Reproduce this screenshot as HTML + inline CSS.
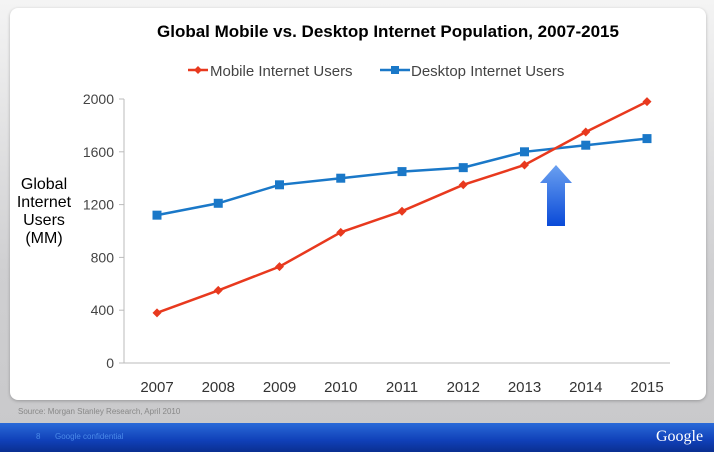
<!DOCTYPE html>
<html><head><meta charset="utf-8"><style>
body{margin:0;width:714px;height:452px;overflow:hidden;font-family:"Liberation Sans",sans-serif;background:linear-gradient(#f4f4f4,#cfcfd1 60%,#c8c8ca);position:relative}
#panel{position:absolute;left:10px;top:8px;width:696px;height:392px;background:#fff;border-radius:8px;box-shadow:0 1px 3px rgba(0,0,0,.25)}
#footer{position:absolute;left:0;top:423px;width:714px;height:29px;background:linear-gradient(#2a6ad8,#1040b8 60%,#0a2f90)}
</style></head><body>
<div id="panel"></div>
<div style="position:absolute;left:18px;top:407px;font-size:8px;color:#888">Source: Morgan Stanley Research, April 2010</div>
<div id="footer">
<span style="position:absolute;left:36px;top:9px;font-size:8px;color:#4a8ae8">8</span>
<span style="position:absolute;left:55px;top:9px;font-size:8px;color:#4a8ae8">Google confidential</span>
<span style="position:absolute;left:656px;top:5px;font-size:16px;color:#fff;font-family:'Liberation Serif',serif">Google</span>
</div>
<svg id="c" width="714" height="452" style="position:absolute;left:0;top:0"></svg>
<script>
const years=["2007","2008","2009","2010","2011","2012","2013","2014","2015"];
const mobile=[380,550,730,990,1150,1350,1500,1750,1980];
const desktop=[1120,1210,1350,1400,1450,1480,1600,1650,1700];
const yTicks=[0,400,800,1200,1600,2000];
const NS="http://www.w3.org/2000/svg";
const svg=document.getElementById('c');
const x=i=>157+i*61.25;
const y=v=>363-v*(264/2000);
function el(t,a,p){const e=document.createElementNS(NS,t);for(const k in a)e.setAttribute(k,a[k]);(p||svg).appendChild(e);return e;}
let t=el('text',{x:388,y:37,'text-anchor':'middle','font-size':17,'font-weight':'bold',fill:'#000'});t.textContent="Global Mobile vs. Desktop Internet Population, 2007-2015";

// legend
let g=el('g',{});
el('line',{x1:188,y1:70,x2:208,y2:70,stroke:'#e8391e','stroke-width':2.5},g);
el('path',{d:'M198 66 L202 70 L198 74 L194 70Z',fill:'#e8391e'},g);
t=el('text',{x:210,y:76,'font-size':15,fill:'#444'},g);t.textContent="Mobile Internet Users";
g=el('g',{});
el('line',{x1:380,y1:70,x2:410,y2:70,stroke:'#1a78c8','stroke-width':2.5},g);
el('rect',{x:391,y:66,width:8,height:8,fill:'#1a78c8'},g);
t=el('text',{x:411,y:76,'font-size':15,fill:'#444'},g);t.textContent="Desktop Internet Users";
// axes
let a=el('line',{x1:124,y1:99,x2:124,y2:363,stroke:'#bbb'});
a=el('line',{x1:124,y1:363,x2:670,y2:363,stroke:'#bbb'});
yTicks.forEach(v=>{el('line',{x1:119,y1:y(v),x2:124,y2:y(v),stroke:'#bbb'});
 const tt=el('text',{x:114,y:y(v)+5,'text-anchor':'end','font-size':14,fill:'#444'});tt.textContent=v;
 });
years.forEach((yr,i)=>{const tt=el('text',{x:x(i),y:392,'text-anchor':'middle','font-size':15,fill:'#333'});tt.textContent=yr;
 });
["Global","Internet","Users","(MM)"].forEach((s,i)=>{const tt=el('text',{x:44,y:189+i*18,'text-anchor':'middle','font-size':16,fill:'#000'});tt.textContent=s;
 });
// series
const dp=desktop.map((v,i)=>x(i)+','+y(v)).join(' ');
let l=el('polyline',{points:dp,fill:'none',stroke:'#1a78c8','stroke-width':2.5});
desktop.forEach((v,i)=>{const m=el('rect',{x:x(i)-4.5,y:y(v)-4.5,width:9,height:9,fill:'#1a78c8'});});
const mp=mobile.map((v,i)=>x(i)+','+y(v)).join(' ');
l=el('polyline',{points:mp,fill:'none',stroke:'#e8391e','stroke-width':2.5});
mobile.forEach((v,i)=>{const cx=x(i),cy=y(v);const m=el('path',{d:`M${cx} ${cy-4.5} L${cx+4.5} ${cy} L${cx} ${cy+4.5} L${cx-4.5} ${cy}Z`,fill:'#e8391e'});});
// arrow
const defs=el('defs',{});const lg=el('linearGradient',{id:'ag',x1:0,y1:0,x2:0,y2:1},defs);
el('stop',{offset:0,'stop-color':'#6aa0f0'},lg);el('stop',{offset:1,'stop-color':'#0a4ad8'},lg);
const ar=el('path',{d:'M556 165 L572 183 L565 183 L565 226 L547 226 L547 183 L540 183Z',fill:'url(#ag)'});

</script>
</body></html>
